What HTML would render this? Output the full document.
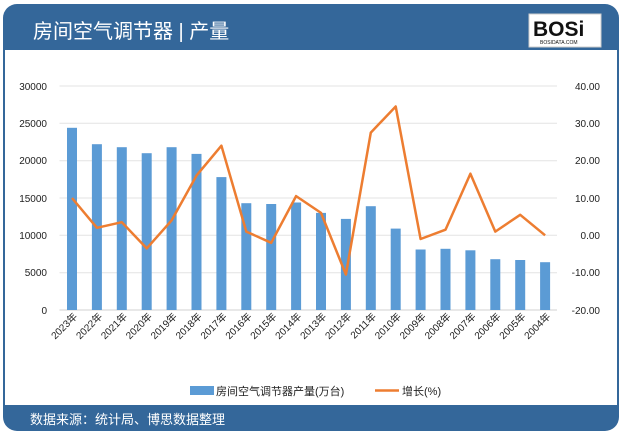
<!DOCTYPE html>
<html><head><meta charset="utf-8"><style>
html,body{margin:0;padding:0;background:#fff;}
body{width:622px;height:435px;overflow:hidden;font-family:"Liberation Sans","Noto Sans CJK SC",sans-serif;}
</style></head><body>
<svg width="622" height="435" viewBox="0 0 622 435" xmlns="http://www.w3.org/2000/svg" font-family="Liberation Sans, Noto Sans CJK SC, sans-serif">
<rect x="3" y="4" width="616" height="427" rx="14" fill="#34679a"/>
<rect x="5" y="50" width="612" height="355" fill="#fff"/>
<text x="33" y="38" font-size="20" fill="#fff">房间空气调节器 | 产量</text>
<rect x="529" y="14" width="72" height="33" fill="#fff" stroke="#ccc"/>
<text x="533" y="36" font-size="21" font-weight="bold" fill="#111">BOSi</text>
<text x="540" y="44" font-size="5" fill="#111">BOSIDATA.COM</text>
<text x="30" y="424" font-size="13" fill="#fff">数据来源：统计局、博思数据整理</text>
<g stroke="#e3e3e3" stroke-width="1">
<line x1="59.5" x2="557" y1="86" y2="86"/><line x1="59.5" x2="557" y1="123.3" y2="123.3"/>
<line x1="59.5" x2="557" y1="160.7" y2="160.7"/><line x1="59.5" x2="557" y1="198" y2="198"/>
<line x1="59.5" x2="557" y1="235.3" y2="235.3"/><line x1="59.5" x2="557" y1="272.7" y2="272.7"/>
</g>
<line x1="59.5" x2="557" y1="310" y2="310" stroke="#d0d0d0"/>
<g font-size="10" fill="#222" text-anchor="end">
<text x="47" y="90">30000</text><text x="47" y="127">25000</text><text x="47" y="164">20000</text>
<text x="47" y="202">15000</text><text x="47" y="239">10000</text><text x="47" y="276">5000</text><text x="47" y="314">0</text>
</g>
<g font-size="10" fill="#222" text-anchor="end">
<text x="600" y="90">40.00</text><text x="600" y="127">30.00</text><text x="600" y="164">20.00</text>
<text x="600" y="202">10.00</text><text x="600" y="239">0.00</text><text x="600" y="276">-10.00</text><text x="600" y="314">-20.00</text>
</g>
<g fill="#5b9bd5">
<rect x="67" y="127.8" width="10" height="182.2"/><rect x="91.9" y="144.2" width="10" height="165.8"/>
<rect x="116.8" y="147.2" width="10" height="162.8"/><rect x="141.7" y="153.2" width="10" height="156.8"/>
<rect x="166.6" y="147.2" width="10" height="162.8"/><rect x="191.5" y="153.9" width="10" height="156.1"/>
<rect x="216.4" y="177.1" width="10" height="132.9"/><rect x="241.3" y="203.2" width="10" height="106.8"/>
<rect x="266.2" y="204" width="10" height="106"/><rect x="291.1" y="202.5" width="10" height="107.5"/>
<rect x="316" y="212.9" width="10" height="97.1"/><rect x="340.9" y="218.9" width="10" height="91.1"/>
<rect x="365.8" y="206.2" width="10" height="103.8"/><rect x="390.7" y="228.6" width="10" height="81.4"/>
<rect x="415.6" y="249.5" width="10" height="60.5"/><rect x="440.5" y="248.8" width="10" height="61.2"/>
<rect x="465.4" y="250.3" width="10" height="59.7"/><rect x="490.3" y="259.2" width="10" height="50.8"/>
<rect x="515.2" y="260" width="10" height="50"/><rect x="540.1" y="262.2" width="10" height="47.8"/>
</g>
<polyline fill="none" stroke="#ed7d31" stroke-width="2.5" stroke-linejoin="round" points="72,198 96.9,227.8 121.8,222.2 146.7,248.4 171.6,220.4 196.5,175.6 221.4,145.7 246.3,231.6 271.2,242.8 296.1,196.1 321,212.9 345.9,274.5 370.8,132.6 395.7,106.5 420.6,239 445.5,229.7 470.4,173.7 495.3,231.6 520.2,214.8 545.1,235.3"/>
<g font-size="10" fill="#222" text-anchor="end">
<text transform="translate(78,317) rotate(-45)">2023年</text>
<text transform="translate(102.9,317) rotate(-45)">2022年</text>
<text transform="translate(127.8,317) rotate(-45)">2021年</text>
<text transform="translate(152.7,317) rotate(-45)">2020年</text>
<text transform="translate(177.6,317) rotate(-45)">2019年</text>
<text transform="translate(202.5,317) rotate(-45)">2018年</text>
<text transform="translate(227.4,317) rotate(-45)">2017年</text>
<text transform="translate(252.3,317) rotate(-45)">2016年</text>
<text transform="translate(277.2,317) rotate(-45)">2015年</text>
<text transform="translate(302.1,317) rotate(-45)">2014年</text>
<text transform="translate(327,317) rotate(-45)">2013年</text>
<text transform="translate(351.9,317) rotate(-45)">2012年</text>
<text transform="translate(376.8,317) rotate(-45)">2011年</text>
<text transform="translate(401.7,317) rotate(-45)">2010年</text>
<text transform="translate(426.6,317) rotate(-45)">2009年</text>
<text transform="translate(451.5,317) rotate(-45)">2008年</text>
<text transform="translate(476.4,317) rotate(-45)">2007年</text>
<text transform="translate(501.3,317) rotate(-45)">2006年</text>
<text transform="translate(526.2,317) rotate(-45)">2005年</text>
<text transform="translate(551.1,317) rotate(-45)">2004年</text>
</g>
<rect x="190" y="386" width="24" height="9" fill="#5b9bd5"/>
<text x="216" y="395" font-size="11" fill="#222">房间空气调节器产量(万台)</text>
<line x1="375" x2="399" y1="390.5" y2="390.5" stroke="#ed7d31" stroke-width="2.5"/>
<text x="402" y="395" font-size="11" fill="#222">增长(%)</text>
</svg>
</body></html>
